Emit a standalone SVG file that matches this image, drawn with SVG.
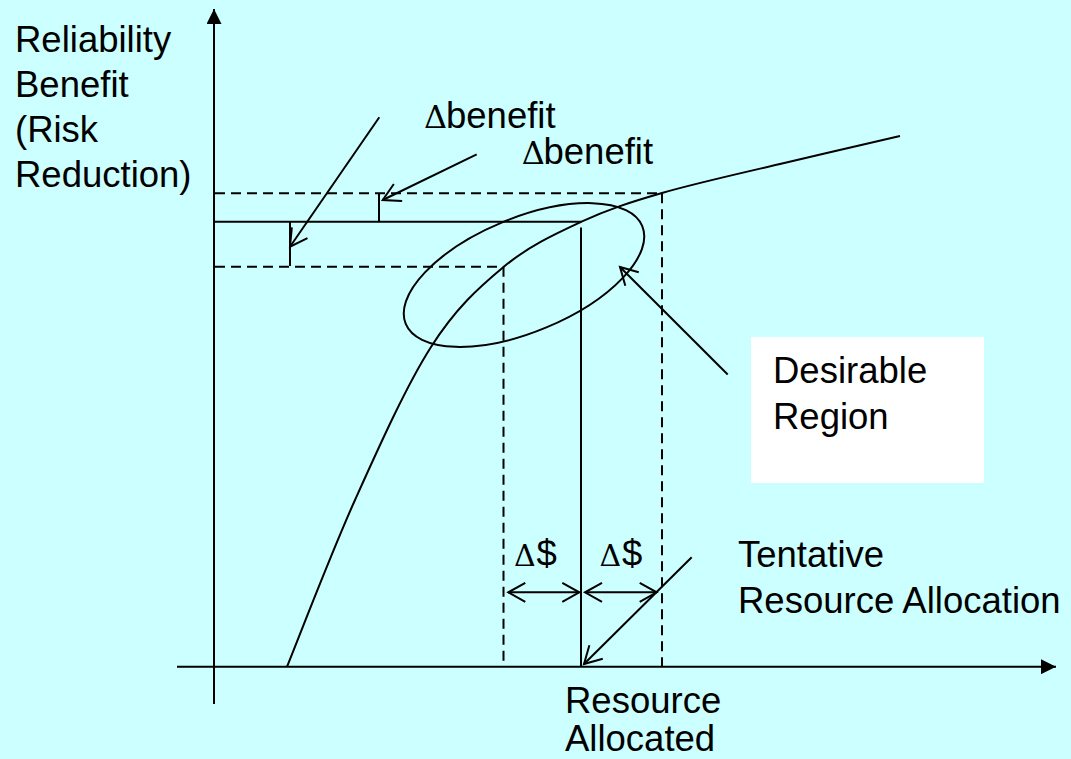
<svg xmlns="http://www.w3.org/2000/svg" width="1071" height="759" viewBox="0 0 1071 759">
  <defs>
    <style>
      .t { font-family: "Liberation Sans", Arial, sans-serif; font-size: 36.5px; fill: #000; }
      .d { font-family: "DejaVu Serif", "Liberation Serif", serif; font-size: 32px; }
      .ln { stroke: #000; stroke-width: 2; fill: none; }
      .dash { stroke: #000; stroke-width: 2; fill: none; stroke-dasharray: 10 6; }
    </style>
    <marker id="open" viewBox="-20 -12 23 24" refX="0" refY="0" markerWidth="23" markerHeight="24" markerUnits="userSpaceOnUse" orient="auto-start-reverse">
      <path d="M-17,-9.5 L0,0 L-17,9.5" fill="none" stroke="#000" stroke-width="2"/>
    </marker>
    <marker id="solid" viewBox="-15 -7.5 15 15" refX="0" refY="0" markerWidth="15" markerHeight="15" markerUnits="userSpaceOnUse" orient="auto">
      <path d="M-15,-7.5 L0,0 L-15,7.5 Z" fill="#000"/>
    </marker>
  </defs>

  <rect width="1071" height="759" fill="#CCFFFF"/>

  <g id="axes">
    <line class="ln" x1="214" y1="704" x2="214" y2="9" marker-end="url(#solid)"/>
    <line class="ln" x1="177" y1="666.7" x2="1056" y2="666.7" marker-end="url(#solid)"/>
  </g>

  <g id="curve">
    <path class="ln" d="M287,666.7 C298.3,638.9 331,553.3 355,500 C379,446.7 406.25,385.8 431,347 C455.75,308.2 478.4,287.9 503.5,267 C528.6,246.1 555.1,234 581.5,221.7 C607.9,209.4 628.9,202.6 662,193 C695.1,183.4 740.7,173.3 780,164 C819.3,154.7 880.3,140.5 900,136"/>
  </g>

  <g id="guides">
    <line class="dash" x1="215" y1="193.3" x2="662" y2="193.3"/>
    <line class="dash" x1="662" y1="193.3" x2="662" y2="666"/>
    <line class="dash" x1="215" y1="266.7" x2="503.5" y2="266.7"/>
    <line class="dash" x1="503.5" y1="266.7" x2="503.5" y2="666"/>
    <line class="ln" x1="215" y1="221.7" x2="581.5" y2="221.7"/>
    <line class="ln" x1="581" y1="227.5" x2="581" y2="666"/>
    <line class="ln" x1="379" y1="193.3" x2="379" y2="221.7"/>
    <line class="ln" x1="290" y1="221.7" x2="290" y2="266"/>
  </g>

  <g id="desirable-region-ellipse">
    <ellipse class="ln" cx="524" cy="275" rx="128" ry="57" transform="rotate(-22.5 524 275)"/>
  </g>

  <g id="connectors">
    <line class="ln" x1="379.3" y1="117.3" x2="290" y2="246.7" marker-end="url(#open)"/>
    <line class="ln" x1="476.7" y1="154.3" x2="382.7" y2="200" marker-end="url(#open)"/>
    <line class="ln" x1="727.7" y1="374.5" x2="620" y2="267" marker-end="url(#open)"/>
    <line class="ln" x1="691.7" y1="557.3" x2="584" y2="664" marker-end="url(#open)"/>
    <line class="ln" x1="508.3" y1="592.3" x2="579.3" y2="592.3" marker-start="url(#open)" marker-end="url(#open)"/>
    <line class="ln" x1="585" y1="592.3" x2="656.7" y2="592.3" marker-start="url(#open)" marker-end="url(#open)"/>
  </g>

  <g id="y-axis-label">
    <text class="t" x="15" y="52.3">Reliability</text>
    <text class="t" x="15" y="97.3">Benefit</text>
    <text class="t" x="15" y="141.8">(Risk</text>
    <text class="t" x="15" y="186.7">Reduction)</text>
  </g>

  <g id="delta-benefit-1">
    <text class="t" x="424" y="127.7"><tspan class="d">Δ</tspan><tspan x="446">benefit</tspan></text>
  </g>
  <g id="delta-benefit-2">
    <text class="t" x="521.7" y="164.3"><tspan class="d">Δ</tspan><tspan x="543.5">benefit</tspan></text>
  </g>

  <g id="desirable-region">
    <rect x="751" y="337" width="233" height="146" fill="#FFFFFF"/>
    <text class="t" x="773" y="383.3">Desirable</text>
    <text class="t" x="773" y="429">Region</text>
  </g>

  <g id="delta-dollar-left">
    <text class="t" x="514" y="566"><tspan class="d" style="font-size:30px">Δ</tspan><tspan x="536.5">$</tspan></text>
  </g>
  <g id="delta-dollar-right">
    <text class="t" x="599.5" y="566"><tspan class="d" style="font-size:30px">Δ</tspan><tspan x="622">$</tspan></text>
  </g>

  <g id="tentative-allocation">
    <text class="t" x="738" y="566.7">Tentative</text>
    <text class="t" x="738" y="613.3">Resource Allocation</text>
  </g>

  <g id="x-axis-label">
    <text class="t" x="565" y="713.3">Resource</text>
    <text class="t" x="565" y="751">Allocated</text>
  </g>
</svg>
